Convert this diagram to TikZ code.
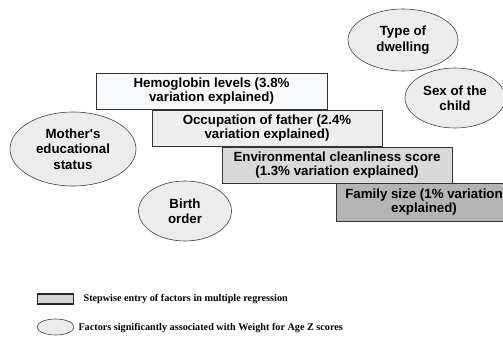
\documentclass[tikz,border=0pt]{standalone}
\usepackage{fontspec}
\newfontfamily\factorfont{Liberation Sans}
\newfontfamily\keyfont{Liberation Serif}
\usetikzlibrary{shapes.geometric,positioning}
\definecolor{ovalgrey}{HTML}{ECECEC}
\definecolor{stepone}{HTML}{F8F9FB}
\definecolor{steptwo}{HTML}{EEEEEE}
\definecolor{stepthree}{HTML}{D9D9D9}
\definecolor{stepfour}{HTML}{B4B4B4}
\definecolor{keygrey}{HTML}{D4D4D4}

\begin{document}
\begin{tikzpicture}[x=1pt,y=-1pt,
  factor/.style={ellipse,draw=black!75,fill=ovalgrey,line width=0.6pt,inner sep=0pt,
    align=center,font=\factorfont\bfseries\fontsize{13.3}{15.5}\selectfont},
  entry/.style={rectangle,draw=black!80,line width=0.7pt,inner sep=0pt,
    minimum height=36pt,align=center,font=\factorfont\bfseries\fontsize{13.3}{14.5}\selectfont},
  keytext/.style={inner sep=0pt,font=\keyfont\bfseries\fontsize{10.2}{12}\selectfont}]
  \clip (0,0) rectangle (503,337);
  % factors associated with WAZ
  \node[factor,minimum width=110pt,minimum height=62pt] (dwelling) at (403,40) {Type of\\dwelling};
  \node[factor,minimum width=100pt,minimum height=60pt] (sex) at (455,98) {Sex of the\\child};
  \node[factor,minimum width=126pt,minimum height=74pt] (mother) at (73,149) {Mother's\\educational\\status};
  \node[factor,minimum width=93pt,minimum height=60pt] (birth) at (185,211) {Birth\\order};
  % stepwise entry of factors
  \node[entry,fill=stepone,minimum width=231pt] (hb) at (211.5,91) {Hemoglobin levels (3.8\%\\variation explained)};
  \node[entry,fill=steptwo,minimum width=230pt] (father) at (267,128) {Occupation of father (2.4\%\\variation explained)};
  \node[entry,fill=stepthree,minimum width=230pt] (clean) at (337,165) {Environmental cleanliness score\\(1.3\% variation explained)};
  \node[entry,fill=stepfour,minimum width=176pt,minimum height=38pt] (family) at (424,202) {Family size (1\% variation\\explained)};
  % key
  \node[rectangle,draw=black!85,fill=keygrey,line width=1.8pt,minimum width=36pt,minimum height=10pt,inner sep=0pt] (keybox) at (55.5,299) {};
  \node[keytext,right=9pt of keybox] (keystep) {Stepwise entry of factors in multiple regression};
  \node[ellipse,draw=black!75,fill=ovalgrey,line width=0.6pt,minimum width=37pt,minimum height=16pt,inner sep=0pt] (keyoval) at (55.5,327) {};
  \node[keytext,right=4pt of keyoval,yshift=-1pt] (keyfactor) {Factors significantly associated with Weight for Age Z scores};
\end{tikzpicture}
\end{document}
